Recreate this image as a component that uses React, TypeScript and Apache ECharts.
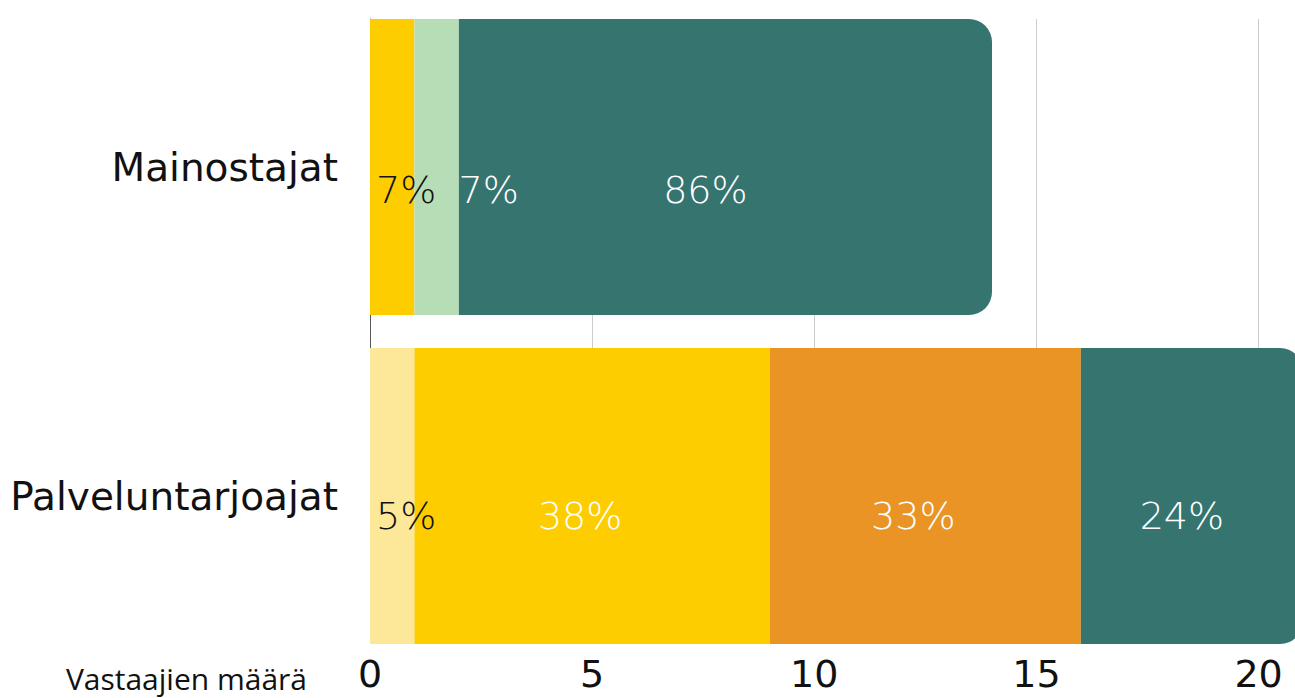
import { useEffect, useRef } from 'react';
import * as echarts from 'echarts';

// Respondents per answer level, for each respondent group
const categories = ['Mainostajat', 'Palveluntarjoajat'];
const seriesNames = ['Taso 1', 'Taso 2', 'Taso 3', 'Taso 4', 'Taso 5'];
const level1 = [0, 1];
const level2 = [1, 8];
const level3 = [0, 7];
const level4 = [1, 0];
const level5 = [12, 5];
const axisMax = 21;
const tickStep = 5;
const axisTitle = 'Vastaajien määrä';

// Styling
const palette = ['#FDE899', '#FDCD00', '#E99424', '#B7DDB7', '#367470'];
const labelInk = [
  ['#111', '#111'],
  ['#111', '#fff'],
  ['#fff', '#fff'],
  ['#fff', '#fff'],
  ['#fff', '#fff'],
];
const labelShiftX = [
  [0, 14],
  [14, -12],
  [0, -12],
  [52, 0],
  [-20, -10],
];
const labelShiftY = [23, 20];
const FONT = 'DejaVu Sans';

export default function App() {
  const ref = useRef<HTMLDivElement>(null);

  useEffect(() => {
    document.body.style.margin = '0';
    if (!ref.current) return;
    const chart = echarts.init(ref.current, undefined, { renderer: 'svg' });

    const levels = [level1, level2, level3, level4, level5];
    const totals = categories.map((_, i) => levels.reduce((s, l) => s + l[i], 0));

    const series = levels.map((values, si) => ({
      name: seriesNames[si],
      type: 'bar',
      stack: 'all',
      xAxisIndex: 0,
      yAxisIndex: 0,
      barWidth: 296,
      itemStyle: {
        color: palette[si],
        borderRadius: si === levels.length - 1 ? [0, 23, 23, 0] : 0,
      },
      data: values.map((v, ci) => ({
        value: v,
        label: {
          show: v > 0,
          position: 'inside',
          offset: [labelShiftX[si][ci], labelShiftY[ci]],
          color: labelInk[si][ci],
        },
      })),
      label: {
        fontFamily: FONT,
        fontWeight: 200,
        fontSize: 38,
        formatter: (p: any) =>
          p.value ? `${Math.round((p.value / totals[p.dataIndex]) * 100)}%` : '',
      },
    }));

    chart.setOption({
      animation: false,
      grid: [
        // bars (the longest bar runs past the right edge of the canvas)
        {
          left: 370,
          width: 933,
          top: 2.5,
          bottom: 37.5,
          containLabel: false,
          outerBoundsMode: 'none',
        },
        // gridlines, baseline and value axis
        {
          left: 370,
          width: 933,
          top: 19,
          bottom: 55,
          containLabel: false,
          outerBoundsMode: 'none',
        },
      ],
      xAxis: [
        {
          gridIndex: 0,
          type: 'value',
          min: 0,
          max: axisMax,
          show: false,
        },
        {
          gridIndex: 1,
          type: 'value',
          min: 0,
          max: axisMax,
          interval: tickStep,
          axisLine: { show: false },
          axisTick: { show: false },
          splitLine: { show: true, lineStyle: { color: '#cccccc', width: 1 } },
          axisLabel: {
            showMaxLabel: false,
            margin: 12,
            fontFamily: FONT,
            fontSize: 38,
            color: '#111',
          },
          name: axisTitle,
          nameLocation: 'start',
          nameGap: 63,
          nameTextStyle: {
            fontFamily: 'Open Sans',
            fontSize: 30,
            lineHeight: 26,
            color: '#111',
            verticalAlign: 'top',
            padding: [22, 0, 0, 0],
          },
        },
      ],
      yAxis: [
        {
          gridIndex: 0,
          type: 'category',
          data: categories,
          inverse: true,
          axisLine: { show: false },
          axisTick: { show: false },
          axisLabel: {
            margin: 32,
            fontFamily: FONT,
            fontSize: 39,
            color: '#111',
          },
        },
        {
          gridIndex: 1,
          type: 'value',
          min: 0,
          max: 1,
          axisLine: { show: true, lineStyle: { color: '#555', width: 1 } },
          axisTick: { show: false },
          axisLabel: { show: false },
          splitLine: { show: false },
        },
      ],
      series,
    });

    return () => chart.dispose();
  }, []);

  return <div ref={ref} style={{ width: 1295, height: 698 }} />;
}
